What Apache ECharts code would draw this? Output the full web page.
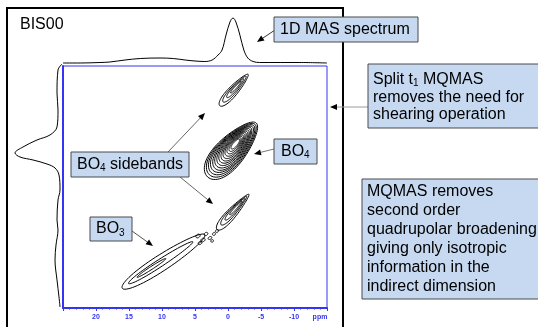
<!DOCTYPE html>
<html><head><meta charset="utf-8">
<script src="https://cdn.jsdelivr.net/npm/echarts@6/dist/echarts.min.js"></script>
<style>html,body{margin:0;padding:0;background:#fff}#c{width:538px;height:327px}</style>
</head><body><div id="c"></div>
<script>
// ---- 1D MAS projection (top): chemical shift (ppm) vs intensity
const masPpm = [25, 22.4, 19.4, 17.9, 15.6, 13.3, 10.3, 8.3, 6.5, 5.0, 3.5, 2.4, 1.5, 0.9, 0.3, -0.3, -0.76, -1.2, -1.8, -2.4, -3.0, -3.8, -4.8, -7.9, -10.9, -15];
const masInt = [0, 0, 0.5, 1, 3, 4.5, 5, 4.5, 3, 2, 1.5, 3, 8, 13, 28, 41, 45, 41, 28, 13, 5, 1.5, 0.5, 0.5, 0.5, 0];
// ---- isotropic projection (left): indirect-dimension position vs intensity
const isoPos = [-15.3, -14.39, -10.91, -8.33, -5.76, -4.55, -3.79, -2.73, -1.82, -1.21, -0.76, -0.15, 0.45, 1.52, 3.79, 5.30, 8.33, 9.85, 12.12, 14.39, 17.42, 20.0, 21.52];
const isoInt = [1, 5, 6, 5, 6, 13, 26, 40, 48, 43, 30, 16, 8, 4, 3, 5, 6, 5, 7, 8, 6, 4, 3];
// ---- contours: [x ppm, y, semi-major, semi-minor, angle deg, taper]
const sidebandUpper = [
  [-0.9, -11.36, 3.2, 0.72, 48, 0.3],
  [-1.0, -11.5, 2.6, 0.5, 48, 0.3],
  [-1.1, -11.65, 1.9, 0.32, 48, 0.3],
  [-1.2, -11.8, 1.2, 0.16, 48, 0.2]
];
const bo4Main = [
  [-0.6, -2.27, 5.5, 2.2, 48, 0.25],
  [-0.64, -2.34, 5.15, 2.05, 48, 0.25],
  [-0.68, -2.41, 4.8, 1.9, 48, 0.25],
  [-0.72, -2.48, 4.45, 1.76, 48, 0.25],
  [-0.76, -2.55, 4.1, 1.62, 49, 0.25],
  [-0.8, -2.62, 3.75, 1.48, 49, 0.25],
  [-0.84, -2.69, 3.4, 1.34, 49, 0.22],
  [-0.88, -2.76, 3.05, 1.2, 49, 0.22],
  [-0.92, -2.83, 2.7, 1.06, 50, 0.22],
  [-0.96, -2.9, 2.35, 0.92, 50, 0.2],
  [-1.0, -2.97, 2.0, 0.78, 50, 0.2],
  [-1.04, -3.04, 1.65, 0.63, 50, 0.2],
  [-1.08, -3.11, 1.3, 0.48, 50, 0.15],
  [-1.12, -3.18, 0.95, 0.33, 50, 0.1]
];
const sidebandLower = [
  [-0.76, 7.12, 3.6, 0.72, 48, 0.4],
  [-0.9, 6.9, 2.9, 0.5, 48, 0.4],
  [-1.05, 6.7, 2.2, 0.32, 48, 0.35],
  [-1.2, 6.5, 1.4, 0.16, 48, 0.3]
];
const bo3 = [
  [9.77, 14.62, 7.45, 1.2, 33, 0.1],
  [10.2, 14.8, 5.8, 0.55, 33, 0.1],
  [11.6, 15.6, 2.6, 0.22, 33, 0]
];
const noiseBlobs = [
  [4.55, 10.76, 0.35, 0.25, 30, 0],
  [3.79, 11.36, 0.35, 0.25, 30, 0],
  [3.33, 10.45, 0.3, 0.22, 30, 0],
  [4.24, 11.82, 0.3, 0.22, 30, 0],
  [2.73, 11.06, 0.3, 0.2, 30, 0],
  [2.12, 10.45, 0.25, 0.2, 30, 0],
  [1.67, 10.0, 0.25, 0.2, 30, 0],
  [2.4, 11.5, 0.22, 0.18, 30, 0]
];

const BLUE = '#3434f2';
const FONT = '"Liberation Sans", Arial, sans-serif';
const BOX_FILL = '#c6d9f1';
const BOX_STROKE = '#4a4a4a';

function renderContour(params, api) {
  const c = api.coord([api.value(0), api.value(1)]);
  const s = api.size([1, 0])[0];
  const a = api.value(2) * s, b = api.value(3) * s;
  const th = api.value(4) * Math.PI / 180, k = api.value(5);
  const pts = [];
  const N = 72;
  for (let i = 0; i < N; i++) {
    const t = i / N * 2 * Math.PI;
    const u = a * Math.cos(t);
    const v = b * Math.sin(t) * (1 - k * Math.cos(t));
    pts.push([c[0] + u * Math.cos(th) - v * Math.sin(th), c[1] - (u * Math.sin(th) + v * Math.cos(th))]);
  }
  return { type: 'polygon', shape: { points: pts }, style: { fill: 'none', stroke: '#000', lineWidth: 1 } };
}
function contourSeries(data) {
  return { type: 'custom', xAxisIndex: 0, yAxisIndex: 0, renderItem: renderContour, data: data, clip: false, silent: true };
}
function arrow(x1, y1, x2, y2, color) {
  const L = Math.hypot(x2 - x1, y2 - y1), dx = (x2 - x1) / L, dy = (y2 - y1) / L;
  const hl = 7, hw = 3;
  const bx = x2 - dx * hl, by = y2 - dy * hl;
  return [
    { type: 'line', z: 50, shape: { x1: x1, y1: y1, x2: bx, y2: by }, style: { stroke: color, lineWidth: 1 } },
    { type: 'polygon', z: 50, shape: { points: [[x2, y2], [bx - dy * hw, by + dx * hw], [bx + dy * hw, by - dx * hw]] }, style: { fill: '#000' } }
  ];
}
function box(x, y, w, h) {
  return { type: 'rect', z: 60, shape: { x: x, y: y, width: w, height: h }, style: { fill: BOX_FILL, stroke: BOX_STROKE, lineWidth: 1 } };
}
function txt(x, y, text, extra) {
  return { type: 'text', z: 70, x: x, y: y, style: Object.assign({ text: text, fontSize: 16, fontFamily: FONT, fill: '#000', verticalAlign: 'middle' }, extra || {}) };
}
const richSub = {
  n: { fontSize: 16, fontFamily: FONT, lineHeight: 18 },
  s: { fontSize: 10, fontFamily: FONT, lineHeight: 9, verticalAlign: 'bottom' }
};

const graphics = [
  { type: 'rect', z: 1, shape: { x: 7, y: 8, width: 336, height: 330 }, style: { fill: 'none', stroke: '#000', lineWidth: 2 } },
  txt(20, 25, 'BIS00'),
  ...arrow(275, 30, 257, 42, '#333'),
  box(274, 17, 144, 25), txt(280, 29.5, '1D MAS spectrum'),
  ...arrow(368, 107, 330, 107, '#9a9a9a'),
  box(368, 64, 175, 64),
  { type: 'text', z: 70, x: 373, y: 71, style: { text: '{n|Split t}{s|1}{n| MQMAS}\n{n|removes the need for}\n{n|shearing operation}', rich: { n: { fontSize: 16, fontFamily: FONT, lineHeight: 17.5 }, s: { fontSize: 10, fontFamily: FONT, lineHeight: 8, verticalAlign: 'bottom' } }, fill: '#000', verticalAlign: 'top' } },
  ...arrow(274, 149, 254, 154, '#777'),
  box(274, 139, 43, 25),
  { type: 'text', z: 70, x: 281, y: 151.5, style: { text: '{n|BO}{s|4}', rich: richSub, fill: '#000', verticalAlign: 'middle' } },
  ...arrow(168, 152, 205, 113, '#666'),
  ...arrow(180, 177, 213, 204, '#666'),
  box(71, 152, 118, 25),
  { type: 'text', z: 70, x: 77, y: 164.5, style: { text: '{n|BO}{s|4}{n| sidebands}', rich: richSub, fill: '#000', verticalAlign: 'middle' } },
  ...arrow(132, 231, 153, 246, '#555'),
  box(90, 217, 42, 24),
  { type: 'text', z: 70, x: 96, y: 229, style: { text: '{n|BO}{s|3}', rich: richSub, fill: '#000', verticalAlign: 'middle' } },
  box(362, 179, 180, 120),
  { type: 'text', z: 70, x: 367, y: 182.5, style: { text: 'MQMAS removes\nsecond order\nquadrupolar broadening\ngiving only isotropic\ninformation in the\nindirect dimension', fontSize: 16, fontFamily: FONT, lineHeight: 19, fill: '#000', verticalAlign: 'top' } },
  { type: 'text', z: 70, x: 320, y: 317, style: { text: 'ppm', fontSize: 7, fontWeight: 'bold', fontFamily: FONT, fill: BLUE, align: 'center', verticalAlign: 'middle' } }
];

const chart = echarts.init(document.getElementById('c'), null, { renderer: 'canvas' });
chart.setOption({
  animation: false,
  backgroundColor: '#fff',
  grid: [
    { left: 63, top: 66, width: 264, height: 242, show: true, borderColor: BLUE, borderWidth: 1, backgroundColor: 'transparent' },
    { left: 63, top: 18, width: 264, height: 45 },
    { left: 15, top: 66, width: 48, height: 242 }
  ],
  xAxis: [
    { gridIndex: 0, type: 'value', min: -15, max: 25, interval: 5, inverse: true,
      axisLine: { show: true, onZero: false, lineStyle: { color: BLUE, width: 2 } },
      axisTick: { show: true, length: 3, lineStyle: { color: BLUE } },
      minorTick: { show: true, splitNumber: 5, length: 1.5, lineStyle: { color: BLUE } },
      splitLine: { show: false },
      axisLabel: { color: BLUE, fontSize: 7, fontWeight: 'bold', fontFamily: FONT, margin: 6,
        formatter: v => (v === 25 || v === -15) ? '' : String(v) } },
    { gridIndex: 1, type: 'value', min: -15, max: 25, inverse: true, show: false },
    { gridIndex: 2, type: 'value', min: 0, max: 48, inverse: true, show: false }
  ],
  yAxis: [
    { gridIndex: 0, type: 'value', min: -15, max: 21.67, inverse: true,
      axisLine: { show: true, onZero: false, lineStyle: { color: BLUE, width: 2 } },
      axisTick: { show: false }, axisLabel: { show: false }, splitLine: { show: false } },
    { gridIndex: 1, type: 'value', min: 0, max: 45, show: false },
    { gridIndex: 2, type: 'value', min: -15, max: 21.67, inverse: true, show: false }
  ],
  series: [
    { type: 'line', xAxisIndex: 1, yAxisIndex: 1, data: masPpm.map((p, i) => [p, masInt[i]]), smooth: 0.35, symbol: 'none', clip: false, lineStyle: { color: '#000', width: 1 }, silent: true },
    { type: 'line', xAxisIndex: 2, yAxisIndex: 2, data: isoPos.map((p, i) => [isoInt[i], p]), smooth: 0.35, symbol: 'none', clip: false, lineStyle: { color: '#000', width: 1 }, silent: true },
    contourSeries(sidebandUpper),
    contourSeries(bo4Main),
    contourSeries(sidebandLower),
    contourSeries(bo3),
    contourSeries(noiseBlobs)
  ],
  graphic: graphics
});
</script>
</body></html>
